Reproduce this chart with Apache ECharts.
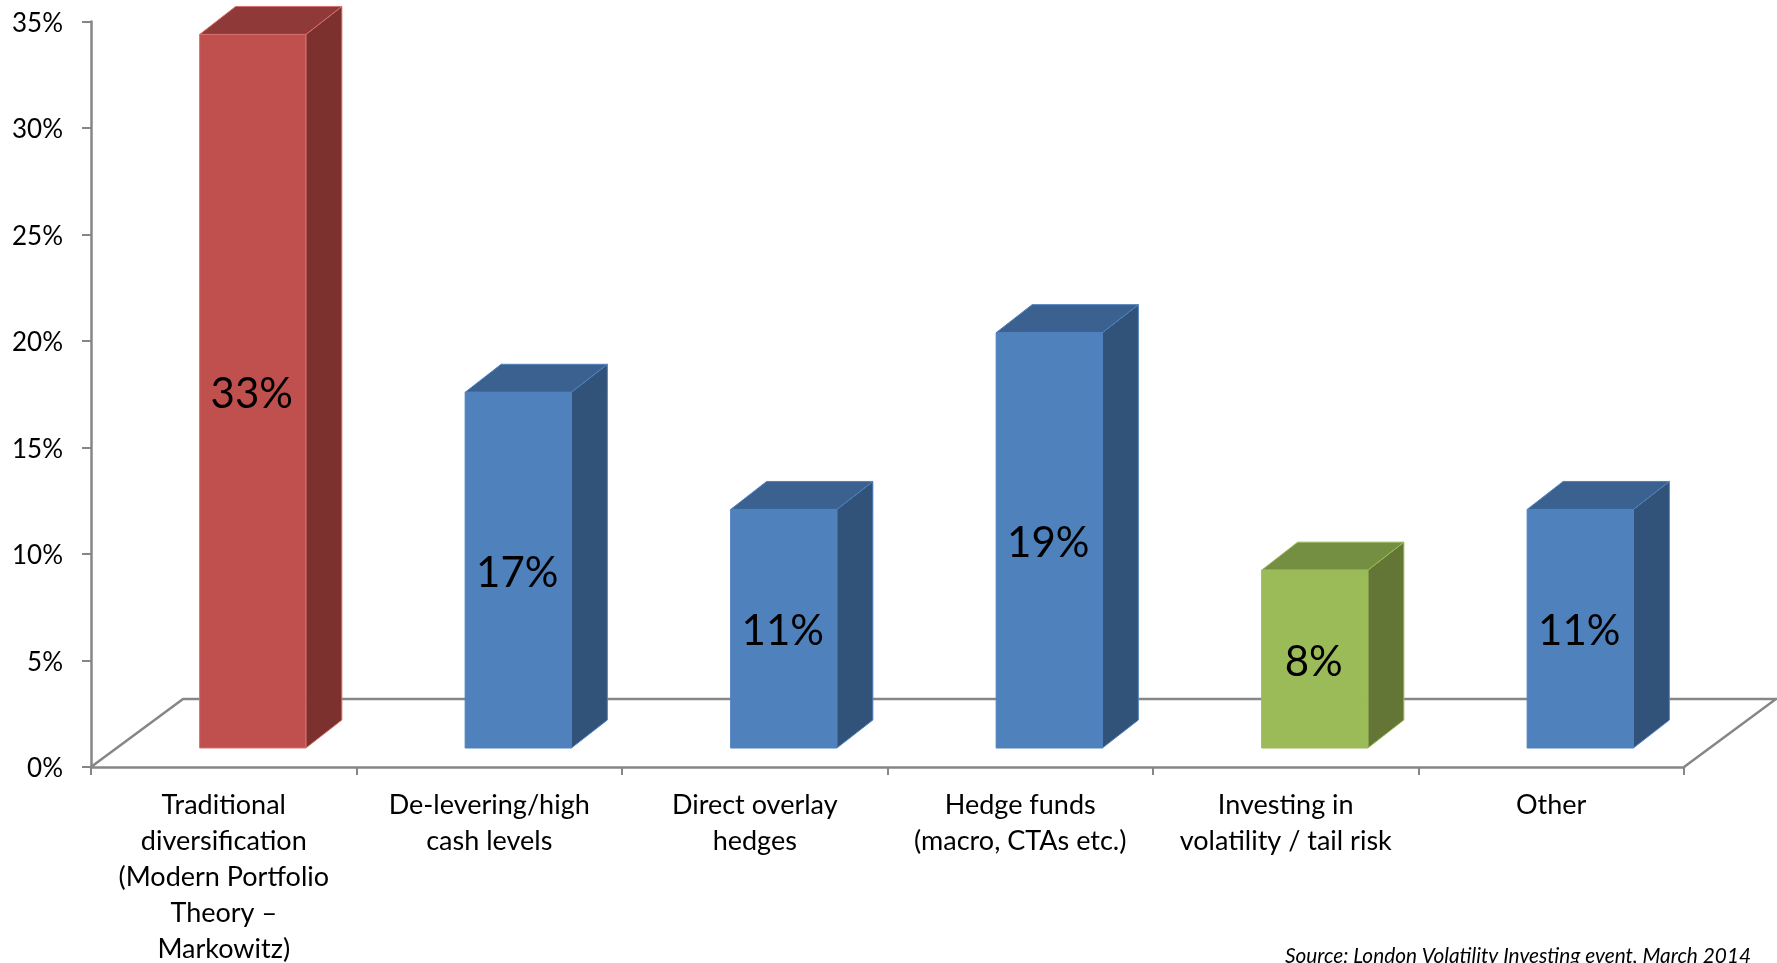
<!DOCTYPE html>
<html lang="en">
<head>
    <meta charset="UTF-8" />
    <title>Tail risk hedging methods</title>
    <style>
        html, body { margin: 0; padding: 0; background: #fff; }
        #chart { width: 1777px; height: 963px; }
    </style>
</head>
<body>
    <div id="chart"></div>
    <script src="https://cdn.jsdelivr.net/npm/echarts@6/dist/echarts.min.js"></script>
    <script type="text/javascript">
        const categories = [
            'Traditional\ndiversification\n(Modern Portfolio\nTheory –\nMarkowitz)',
            'De-levering/high\ncash levels',
            'Direct overlay\nhedges',
            'Hedge funds\n(macro, CTAs etc.)',
            'Investing in\nvolatility / tail risk',
            'Other'
        ];
        // bar heights, the printed labels are rounded
        const values = [33.5, 16.7, 11.2, 19.5, 8.35, 11.2];
        const barLabels = ['33%', '17%', '11%', '19%', '8%', '11%'];
        const colorKeys = ['red', 'blue', 'blue', 'blue', 'green', 'blue'];
        const source = 'Source: London Volatility Investing event, March 2014';

        const faces = {
            red: { front: '#C0504D', side: '#7D312F', top: '#8F3A38', edge: '#D4706C' },
            blue: { front: '#4F81BD', side: '#325379', top: '#3A6190', edge: '#4F81BD' },
            green: { front: '#9BBB59', side: '#647636', top: '#758F42', edge: '#9BBB59' }
        };

        // fake 3d: floor depth in px, bars sit part way back on the floor
        const floorDX = 92, floorDY = 68;
        const barShiftX = 29, barShiftY = 19;
        const barDX = 36, barDY = 28;
        const font = 'Lato';

        function renderFloor(params, api) {
            const c = params.coordSys;
            const y0 = c.y + c.height;
            return {
                type: 'polyline',
                shape: {
                    points: [
                        [c.x, y0],
                        [c.x + floorDX, y0 - floorDY],
                        [c.x + c.width + floorDX, y0 - floorDY],
                        [c.x + c.width, y0]
                    ]
                },
                style: { fill: null, stroke: '#868686', lineWidth: 2.5 }
            };
        }

        function renderBar(params, api) {
            const i = api.value(0);
            const base = api.coord([i, 0]);
            const top = api.coord([i, api.value(1)]);
            const w = api.size([1, 0])[0] * 0.4;
            const l = base[0] + barShiftX - w / 2;
            const r = l + w;
            const b = base[1] - barShiftY;
            const t = top[1] - barShiftY;
            const col = faces[colorKeys[i]];
            const poly = (points, fill) => ({
                type: 'polygon',
                shape: { points: points },
                style: { fill: fill, stroke: col.edge, lineWidth: 1 }
            });
            return {
                type: 'group',
                children: [
                    poly([[r, b], [r + barDX, b - barDY], [r + barDX, t - barDY], [r, t]], col.side),
                    poly([[l, t], [r, t], [r + barDX, t - barDY], [l + barDX, t - barDY]], col.top),
                    poly([[l, b], [r, b], [r, t], [l, t]], col.front),
                    {
                        type: 'text',
                        style: {
                            x: (l + r) / 2 - 1,
                            y: (t + b) / 2 + 3,
                            text: barLabels[i],
                            fill: '#000',
                            font: '42px ' + font,
                            align: 'center',
                            verticalAlign: 'middle'
                        }
                    }
                ]
            };
        }

        const myChart = echarts.init(document.getElementById('chart'));
        myChart.setOption({
            animation: false,
            backgroundColor: '#fff',
            textStyle: { fontFamily: font },
            title: {
                text: source,
                right: 21,
                top: 941,
                textStyle: { fontFamily: font, fontStyle: 'italic', fontWeight: 'normal', fontSize: 20.8, color: '#000' }
            },
            grid: { left: 91, right: 93, top: 21.5, bottom: 196, outerBoundsMode: 'none' },
            xAxis: {
                type: 'category',
                data: categories,
                axisLine: { lineStyle: { color: '#868686', width: 2.5 } },
                axisTick: { show: true, alignWithLabel: false, length: 8, lineStyle: { color: '#868686', width: 2 } },
                axisLabel: { interval: 0, color: '#000', fontSize: 27, lineHeight: 36, margin: 20, fontFamily: font }
            },
            yAxis: {
                type: 'value',
                min: 0,
                max: 35,
                interval: 5,
                splitLine: { show: false },
                axisLine: { show: true, lineStyle: { color: '#868686', width: 2.5 } },
                axisTick: { show: true, length: 9, lineStyle: { color: '#868686', width: 2 } },
                axisLabel: { formatter: '{value}%', color: '#000', fontSize: 26, margin: 28, verticalAlign: 'top', padding: [-11, 0, 0, 0], fontFamily: font }
            },
            series: [
                { type: 'custom', z: 1, renderItem: renderFloor, data: [[0, 0]] },
                {
                    type: 'custom',
                    z: 2,
                    renderItem: renderBar,
                    encode: { x: 0, y: 1 },
                    data: values.map((v, i) => [i, v])
                }
            ]
        });
    </script>
</body>
</html>
